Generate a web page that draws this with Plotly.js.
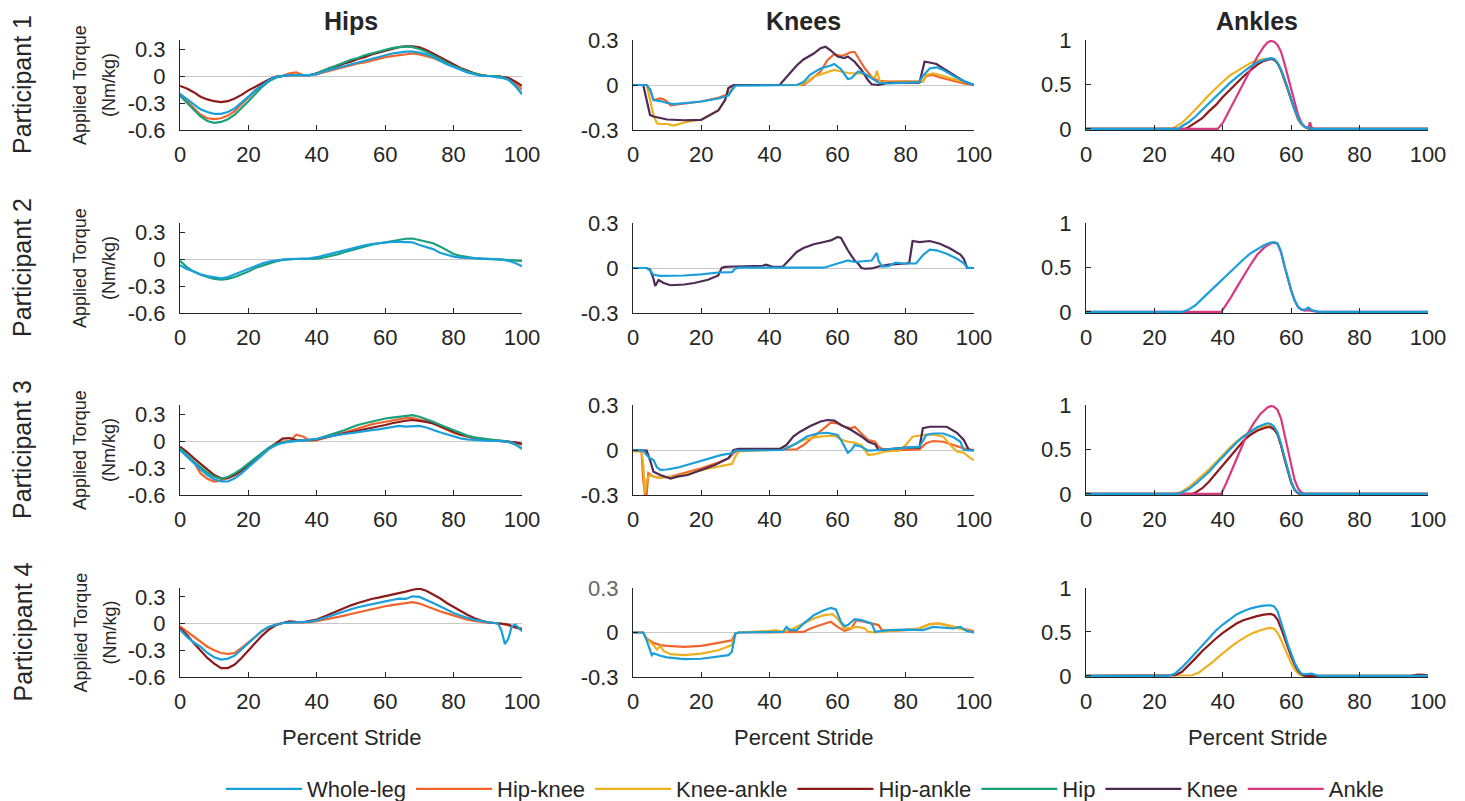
<!DOCTYPE html>
<html>
<head>
<meta charset="utf-8">
<script src="https://cdn.plot.ly/plotly-3.0.1.min.js"></script>
<style>html,body{margin:0;padding:0;background:#fff}#chart{width:1465px;height:801px}</style>
</head>
<body>
<div id="chart"></div>
<script>
// ---------- categories / labels ----------
const SERIES = ['Whole-leg','Hip-knee','Knee-ankle','Hip-ankle','Hip','Knee','Ankle'];
const COLORS = ['#1A9FDB','#F2642B','#EDB120','#8C1A1A','#17A07A','#4E2A55','#D8387E'];
const COLUMNS = ['Hips','Knees','Ankles'];
const PARTICIPANTS = ['Participant 1','Participant 2','Participant 3','Participant 4'];
const X_TICKS = [0,20,40,60,80,100];
const HIP_TICKS = [-0.6,-0.3,0,0.3];
const HIP_TICKTEXT = ['-0.6','-0.3','0','0.3'];
const KNEE_TICKS = [-0.3,0,0.3];
const KNEE_TICKTEXT = ['-0.3','0','0.3'];
const ANKLE_TICKS = [0,0.5,1];
const ANKLE_TICKTEXT = ['0','0.5','1'];

// ---------- hips (percent stride grid) ----------
const HIP_X = [0,2,4,6,8,10,12,14,16,18,20,22,24,26,28,30,32,34,36,38,40,42,44,46,48,50,52,54,56,58,60,62,64,66,68,70,72,74,76,78,80,82,84,86,88,90,92,94,96,98,100];

const P1_HIP_WL = [-0.20,-0.26,-0.32,-0.37,-0.40,-0.42,-0.42,-0.40,-0.36,-0.30,-0.23,-0.16,-0.10,-0.05,-0.01,0.00,0.01,0.01,0.01,0.01,0.02,0.05,0.07,0.09,0.11,0.13,0.15,0.17,0.19,0.21,0.23,0.25,0.26,0.27,0.27,0.26,0.24,0.21,0.17,0.13,0.10,0.07,0.04,0.02,0.00,0.00,-0.01,-0.02,-0.04,-0.10,-0.20];
const P1_HIP_HK = [-0.20,-0.28,-0.36,-0.43,-0.47,-0.48,-0.47,-0.44,-0.39,-0.32,-0.24,-0.16,-0.10,-0.05,-0.01,0.00,0.03,0.04,0.01,0.01,0.02,0.04,0.06,0.08,0.10,0.12,0.14,0.15,0.17,0.19,0.21,0.22,0.23,0.24,0.25,0.24,0.22,0.20,0.17,0.14,0.11,0.08,0.05,0.03,0.01,0.00,0.00,-0.01,-0.03,-0.08,-0.15];
const P1_HIP_HA = [-0.11,-0.14,-0.18,-0.23,-0.26,-0.28,-0.29,-0.28,-0.25,-0.21,-0.16,-0.12,-0.08,-0.04,-0.01,0.00,0.01,0.01,0.01,0.01,0.03,0.06,0.09,0.11,0.14,0.16,0.19,0.21,0.24,0.26,0.28,0.30,0.32,0.33,0.33,0.32,0.29,0.25,0.21,0.17,0.13,0.09,0.06,0.03,0.01,0.00,0.00,-0.01,-0.02,-0.06,-0.11];
const P1_HIP_H  = [-0.22,-0.30,-0.38,-0.45,-0.50,-0.52,-0.51,-0.48,-0.43,-0.36,-0.28,-0.20,-0.12,-0.06,-0.02,0.00,0.01,0.01,0.01,0.01,0.03,0.06,0.09,0.12,0.15,0.18,0.20,0.23,0.25,0.27,0.29,0.31,0.32,0.33,0.32,0.30,0.27,0.23,0.19,0.15,0.11,0.08,0.05,0.03,0.01,0.00,0.00,-0.01,-0.04,-0.11,-0.20];

const P2_HIP_WL = [-0.07,-0.11,-0.14,-0.17,-0.19,-0.205,-0.215,-0.20,-0.17,-0.14,-0.115,-0.08,-0.05,-0.03,-0.015,-0.007,0.0,0.004,0.006,0.007,0.02,0.04,0.055,0.08,0.10,0.12,0.137,0.152,0.167,0.177,0.185,0.19,0.19,0.19,0.185,0.155,0.135,0.11,0.07,0.045,0.026,0.015,0.01,0.006,0.004,0.002,0.0,-0.005,-0.02,-0.045,-0.08];
const P2_HIP_H  = [-0.02,-0.09,-0.14,-0.175,-0.20,-0.22,-0.23,-0.22,-0.20,-0.17,-0.14,-0.10,-0.075,-0.05,-0.026,-0.01,-0.003,0.0,0.0,0.0,0.005,0.017,0.03,0.05,0.075,0.097,0.12,0.14,0.16,0.172,0.185,0.197,0.21,0.225,0.228,0.21,0.195,0.175,0.14,0.10,0.055,0.035,0.02,0.01,0.004,0.0,0.0,-0.002,-0.005,-0.01,-0.02];

const P3_HIP_WL = [-0.10,-0.174,-0.25,-0.315,-0.378,-0.426,-0.45,-0.45,-0.415,-0.36,-0.29,-0.22,-0.155,-0.09,-0.048,-0.02,-0.007,0.0,0.004,0.01,0.022,0.04,0.055,0.067,0.078,0.088,0.096,0.105,0.12,0.13,0.14,0.152,0.167,0.16,0.167,0.167,0.15,0.12,0.097,0.075,0.05,0.03,0.018,0.01,0.005,0.002,0.0,0.0,-0.01,-0.03,-0.09];
const P3_HIP_HK = [-0.08,-0.167,-0.23,-0.36,-0.42,-0.45,-0.44,-0.415,-0.378,-0.33,-0.27,-0.20,-0.145,-0.08,-0.033,-0.007,0.0,0.07,0.05,0.0,0.01,0.03,0.048,0.07,0.093,0.117,0.14,0.162,0.185,0.20,0.215,0.228,0.24,0.255,0.255,0.24,0.22,0.196,0.16,0.12,0.09,0.067,0.045,0.03,0.018,0.01,0.004,0.0,-0.005,-0.02,-0.04];
const P3_HIP_HA = [-0.063,-0.12,-0.19,-0.255,-0.32,-0.378,-0.415,-0.41,-0.378,-0.33,-0.27,-0.20,-0.137,-0.08,-0.026,0.026,0.033,0.011,0.007,0.01,0.018,0.037,0.055,0.07,0.085,0.10,0.115,0.128,0.14,0.16,0.178,0.197,0.215,0.225,0.233,0.226,0.212,0.196,0.165,0.13,0.10,0.074,0.055,0.037,0.022,0.01,0.004,0.0,-0.005,-0.015,-0.03];
const P3_HIP_H  = [-0.08,-0.155,-0.23,-0.29,-0.35,-0.396,-0.42,-0.40,-0.36,-0.31,-0.25,-0.185,-0.126,-0.074,-0.037,-0.015,-0.004,0.0,0.005,0.01,0.022,0.045,0.067,0.093,0.12,0.15,0.178,0.197,0.215,0.232,0.25,0.26,0.27,0.285,0.288,0.27,0.245,0.215,0.18,0.148,0.115,0.085,0.06,0.04,0.028,0.018,0.01,0.004,-0.01,-0.04,-0.08];

const P4_HIP_WL_X = [0,2,4,6,8,10,12,14,16,18,20,22,24,26,28,30,32,34,36,38,40,42,44,46,48,50,52,54,56,58,60,62,64,66,68,70,72,74,76,78,80,82,84,86,88,90,92,93,94,95,96,97,98,100];
const P4_HIP_WL = [-0.067,-0.15,-0.21,-0.26,-0.33,-0.378,-0.405,-0.393,-0.36,-0.29,-0.217,-0.142,-0.079,-0.037,-0.011,0.007,0.012,0.015,0.018,0.022,0.037,0.063,0.09,0.115,0.139,0.162,0.184,0.202,0.22,0.235,0.25,0.265,0.28,0.277,0.307,0.30,0.27,0.232,0.195,0.157,0.12,0.092,0.064,0.045,0.026,0.015,0.007,0.0,-0.08,-0.23,-0.17,-0.03,-0.01,-0.085];
const P4_HIP_HK = [-0.03,-0.086,-0.15,-0.20,-0.26,-0.30,-0.33,-0.34,-0.33,-0.273,-0.21,-0.15,-0.086,-0.04,-0.011,0.007,0.007,0.007,0.01,0.015,0.026,0.04,0.056,0.073,0.09,0.108,0.127,0.146,0.165,0.18,0.195,0.207,0.22,0.23,0.24,0.225,0.195,0.167,0.139,0.115,0.09,0.067,0.045,0.03,0.019,0.012,0.007,0.0,-0.02,-0.045,-0.065];
const P4_HIP_HA = [-0.05,-0.124,-0.217,-0.30,-0.386,-0.45,-0.50,-0.50,-0.46,-0.386,-0.30,-0.217,-0.135,-0.067,-0.019,0.007,0.026,0.019,0.015,0.03,0.045,0.078,0.112,0.145,0.176,0.205,0.232,0.255,0.277,0.292,0.307,0.325,0.345,0.36,0.38,0.393,0.37,0.33,0.285,0.232,0.185,0.139,0.10,0.064,0.034,0.015,0.005,0.0,-0.01,-0.04,-0.06];

// ---------- knees ----------
const P1_KNE_WL_X = [0,4,5,6,8,10,12,15,20,25,28,29,30,48,50,52,55,58,59,61,62,63,64,66,68,70,72,75,80,84,85,87,89,91,94,97,100];
const P1_KNE_WL   = [0,0,-0.03,-0.10,-0.107,-0.12,-0.127,-0.12,-0.11,-0.09,-0.07,-0.035,-0.005,0,0.02,0.07,0.11,0.13,0.14,0.105,0.07,0.04,0.045,0.09,0.075,0.045,0.015,0.01,0.018,0.02,0.06,0.11,0.118,0.10,0.06,0.027,0];
const P1_KNE_HK_X = [0,4,5,6,8,9,10,11,13,15,20,25,28,29,30,50,52,55,57,59,61,62,64,65,66,68,70,72,75,80,85,86,88,90,93,97,100];
const P1_KNE_HK   = [0,0,-0.03,-0.10,-0.09,-0.095,-0.11,-0.135,-0.13,-0.125,-0.11,-0.085,-0.06,-0.03,0,0,0.033,0.09,0.165,0.205,0.195,0.20,0.22,0.22,0.18,0.11,0.055,0.027,0.022,0.025,0.022,0.06,0.067,0.05,0.033,0.01,0];
const P1_KNE_KA_X = [0,4,5,6,7,8,10,12,15,20,25,27,28,30,49,51,53,56,59,61,63,65,67,69,71,71.5,72.5,75,80,85,86,88,90,93,97,100];
const P1_KNE_KA   = [0,0,-0.10,-0.20,-0.255,-0.26,-0.26,-0.27,-0.25,-0.23,-0.17,-0.10,-0.02,0,0,0.022,0.055,0.08,0.10,0.09,0.08,0.078,0.078,0.06,0.05,0.095,0.015,0.02,0.022,0.025,0.067,0.078,0.067,0.045,0.02,0];
const P1_KNE_K_X  = [0,3,5,6,8,10,15,20,25,27,28,29.5,43,45,47,48,50,53,55,56.5,58,60,62,63,65,67,69,70,72,75,84,85.5,87,89,91,93,95,97,100];
const P1_KNE_K    = [0,0,-0.20,-0.21,-0.22,-0.23,-0.235,-0.233,-0.17,-0.10,-0.02,0,0,0.055,0.11,0.13,0.17,0.21,0.245,0.255,0.23,0.19,0.18,0.19,0.155,0.10,0.03,0.005,0.0,0.015,0.015,0.155,0.15,0.14,0.11,0.08,0.05,0.025,0];

const P2_KNE_WL_X = [0,4,5,6,8,15,20,25,29,30,31,56,60,63,65,70,71,71.5,72,73,75,77,79,83,85,87,89,92,95,97,98,100];
const P2_KNE_WL   = [0,0,-0.015,-0.045,-0.053,-0.05,-0.042,-0.03,-0.027,-0.005,0.002,0.002,0.03,0.05,0.04,0.05,0.085,0.10,0.05,0.01,0.013,0.036,0.03,0.03,0.085,0.122,0.118,0.095,0.062,0.033,0.002,0];
const P2_KNE_K_X  = [0,4,5,6,6.5,7.5,9,11,15,18,22,25,26,27,30,38,39,41,44,46,48,50,53,56,58,60,61,63,65,66,67,68,70,72,75,80,81,82,84,87,90,93,96,97,98,100];
const P2_KNE_K    = [0,0,-0.01,-0.07,-0.12,-0.08,-0.10,-0.115,-0.11,-0.10,-0.078,-0.05,0,0.007,0.01,0.015,0.022,0.008,0.01,0.06,0.107,0.133,0.158,0.173,0.184,0.207,0.20,0.118,0.05,0.03,0,-0.005,-0.003,0.01,0.022,0.03,0.033,0.18,0.173,0.18,0.162,0.13,0.09,0.062,0,0];

const P3_KNE_WL_X = [0,3,4,5,6,7,8,10,13,18,22,26,29,30,44,48,51,54,57,60,61,62,63,64,65,67,69,72,77,82,84,86,88,91,94,96,97,100];
const P3_KNE_WL   = [0,-0.004,-0.033,-0.055,-0.067,-0.115,-0.133,-0.13,-0.118,-0.085,-0.055,-0.033,-0.022,-0.004,0,0.045,0.09,0.11,0.115,0.10,0.067,0.022,-0.018,0,0.033,0.022,-0.004,0,0.011,0.022,0.022,0.10,0.11,0.11,0.085,0.055,0,-0.004];
const P3_KNE_HK_X = [0,2.5,3,3.5,4,4.5,6,8,11,15,20,25,28,29,30,31,48,50,53,56,58,60,62,64,65,67,69,71,72,74,84,86,88,91,94,97,100];
const P3_KNE_HK   = [0,-0.01,-0.20,-0.30,-0.30,-0.155,-0.178,-0.185,-0.178,-0.155,-0.122,-0.084,-0.055,-0.033,-0.011,-0.004,0.005,0.033,0.09,0.145,0.182,0.178,0.155,0.145,0.155,0.11,0.067,0.055,0.022,-0.004,0.004,0.045,0.06,0.055,0.033,0.011,0];
const P3_KNE_KA_X = [0,2.5,3,3.5,4,5,7,9,12,15,18,21,24,27,29,30,31,44,46,48,50,53,56,59,61,63,65,67,69,71,74,78,80,82,85,88,91,93,95,97,99,100];
const P3_KNE_KA   = [-0.01,-0.01,-0.09,-0.29,-0.20,-0.167,-0.185,-0.18,-0.18,-0.162,-0.145,-0.13,-0.115,-0.10,-0.093,-0.045,-0.01,0.005,0.022,0.045,0.067,0.082,0.093,0.096,0.07,0.055,0.049,0.033,-0.033,-0.027,-0.01,-0.004,0.033,0.089,0.10,0.104,0.089,0.033,-0.01,-0.018,-0.055,-0.067];
const P3_KNE_K_X  = [0,4,5,6,8,11,13,16,20,24,28,29.5,31,43,45,47,49,52,55,57,59,61,64,67,69,71,72,75,80,84,85,87,90,92,95,97,98.5,100];
const P3_KNE_K    = [0,-0.004,-0.067,-0.145,-0.167,-0.19,-0.178,-0.167,-0.133,-0.10,-0.055,0,0.007,0.007,0.033,0.09,0.122,0.16,0.19,0.20,0.196,0.167,0.133,0.09,0.055,0.038,0,0.007,0.016,0.016,0.145,0.155,0.155,0.155,0.115,0.067,0,0];

const P4_KNE_WL_X = [0,3,4,5,5.5,6,8,10,15,20,25,28,29,30,31,44,45,46,48,50,53,56,58,59.5,61,62,63,65,67,69,70,71,75,80,85,88,91,94,96,98,100];
const P4_KNE_WL   = [0,0,-0.052,-0.13,-0.153,-0.14,-0.157,-0.168,-0.18,-0.177,-0.164,-0.153,-0.13,-0.007,0,0.004,0.038,0.016,0.016,0.06,0.117,0.15,0.166,0.155,0.072,0.043,0.05,0.09,0.083,0.067,0.06,0.004,0.016,0.02,0.016,0.038,0.031,0.027,0.038,0.009,0];
const P4_KNE_HK_X = [0,3,4,6,8,10,15,20,25,29,30,31,50,52,55,58,60,62,64,65.5,68,70,72,73,76,80,84,87,90,94,97,100];
const P4_KNE_HK   = [0,0,-0.04,-0.07,-0.085,-0.09,-0.097,-0.09,-0.07,-0.052,-0.007,0,0.004,0.027,0.05,0.072,0.038,0.011,0.027,0.083,0.072,0.06,0.05,0.016,0.011,0.016,0.027,0.056,0.06,0.038,0.022,0.009];
const P4_KNE_KA_X = [0,3,4,6,7,8,9,11,15,20,25,28,29,30,31,40,42,44,47,50,53,56,58.5,60,62,64,66,68,69,71,75,80,84,87,90,93,96,98,100];
const P4_KNE_KA   = [0,0,-0.04,-0.085,-0.115,-0.092,-0.124,-0.146,-0.153,-0.142,-0.12,-0.097,-0.085,-0.011,0,0.011,0.016,0.004,0.027,0.06,0.094,0.117,0.124,0.094,0.027,0.031,0.038,0.027,0.004,0,0.009,0.016,0.027,0.056,0.06,0.045,0.027,0.016,0];

// ---------- ankles ----------
const P1_ANK_A_X  = [0,38.5,40,42,44,46,48,50,52,53,54,55,56,57,58,59,60,61,62,63,64,65,65.5,66,67,100];
const P1_ANK_A    = [0,0,0.067,0.216,0.366,0.515,0.664,0.806,0.925,0.97,0.99,0.98,0.944,0.87,0.74,0.59,0.44,0.29,0.16,0.067,0.022,0.01,0.075,0.01,0,0];
const P1_ANK_KA_X = [0,25,26,28,30,32,34,36,38,40,42,44,46,48,50,52,54,55,56,57,58,59,60,61,62,63,64,65,100];
const P1_ANK_KA   = [0,0,0.02,0.067,0.14,0.216,0.30,0.384,0.46,0.53,0.60,0.65,0.70,0.74,0.77,0.785,0.79,0.78,0.74,0.66,0.55,0.44,0.31,0.20,0.10,0.05,0.02,0,0];
const P1_ANK_WL_X = [0,27,28,30,32,34,36,38,40,42,44,46,48,50,52,54,55,56,57,58,59,60,61,62,63,64,65,66,100];
const P1_ANK_WL   = [0,0,0.03,0.075,0.14,0.216,0.29,0.37,0.45,0.515,0.58,0.645,0.70,0.746,0.776,0.795,0.79,0.746,0.67,0.57,0.45,0.33,0.216,0.12,0.06,0.022,0.008,0,0];
const P1_ANK_HA_X = [0,29,30,32,34,36,38,40,42,44,46,48,50,52,54,55,56,57,58,59,60,61,62,63,64,65,66,100];
const P1_ANK_HA   = [0,0,0.02,0.067,0.12,0.20,0.27,0.36,0.44,0.515,0.59,0.655,0.72,0.765,0.787,0.78,0.74,0.665,0.565,0.45,0.33,0.216,0.12,0.06,0.022,0.008,0,0];

const P2_ANK_WL_X = [0,28,30,32,34,36,38,40,42,44,46,48,50,52,54,55,56,57,58,59,60,61,62,63,64,65,66,68,100];
const P2_ANK_WL   = [0,0,0.026,0.075,0.15,0.225,0.30,0.375,0.45,0.525,0.59,0.655,0.70,0.75,0.78,0.786,0.77,0.68,0.525,0.375,0.243,0.13,0.056,0.026,0.026,0.049,0.02,0,0];
const P2_ANK_A_X  = [0,39.5,40,42,44,46,48,50,52,54,55,56,57,58,59,60,61,62,63,64,65,66,68,100];
const P2_ANK_A    = [0,0,0.026,0.14,0.27,0.40,0.525,0.64,0.72,0.77,0.78,0.765,0.675,0.52,0.37,0.24,0.128,0.055,0.025,0.015,0.02,0.01,0,0];

const P3_ANK_A_X  = [0,39.5,41,43,45,47,49,51,53,54,55,56,57,58,59,60,61,62,63,64,100];
const P3_ANK_A    = [0,0,0.12,0.307,0.494,0.663,0.794,0.90,0.97,0.989,0.98,0.944,0.85,0.68,0.494,0.307,0.157,0.064,0.015,0,0];
const P3_ANK_WL_X = [0,27,28,30,32,34,36,38,40,42,44,46,48,50,52,53,54,55,56,57,58,59,60,61,62,63,100];
const P3_ANK_WL   = [0,0,0.015,0.052,0.112,0.176,0.25,0.337,0.42,0.50,0.577,0.644,0.70,0.75,0.78,0.794,0.786,0.757,0.69,0.57,0.42,0.27,0.139,0.052,0.015,0,0];
const P3_ANK_KA_X = [0,26,28,30,32,34,36,38,40,42,44,46,48,50,52,53,54,55,56,57,58,59,60,61,62,63,100];
const P3_ANK_KA   = [0,0,0.026,0.075,0.139,0.206,0.277,0.356,0.438,0.52,0.588,0.65,0.70,0.738,0.764,0.768,0.764,0.734,0.674,0.55,0.40,0.25,0.127,0.045,0.007,0,0];
const P3_ANK_HA_X = [0,31,32,34,36,38,40,42,44,46,48,50,52,53,54,55,56,57,58,59,60,61,62,63,100];
const P3_ANK_HA   = [0,0,0.015,0.064,0.139,0.232,0.326,0.42,0.513,0.596,0.663,0.71,0.738,0.75,0.75,0.725,0.67,0.55,0.40,0.25,0.127,0.045,0.007,0,0];

const P4_ANK_WL_X = [0,24,26,28,30,32,34,36,38,40,42,44,46,48,50,52,54,55,56,57,58,59,60,61,62,63,64,66,68,100];
const P4_ANK_WL   = [0,0,0.026,0.094,0.177,0.264,0.35,0.434,0.517,0.585,0.64,0.70,0.736,0.766,0.785,0.80,0.804,0.79,0.736,0.62,0.49,0.36,0.245,0.15,0.075,0.026,0.019,0.026,0,0];
const P4_ANK_HA_X = [0,25,26,28,30,32,34,36,38,40,42,44,46,48,50,52,54,55,56,57,58,59,60,61,62,63,64,95,97,99,100];
const P4_ANK_HA   = [0,0,0.008,0.045,0.12,0.20,0.283,0.358,0.426,0.49,0.547,0.596,0.634,0.66,0.68,0.698,0.706,0.69,0.64,0.547,0.434,0.32,0.22,0.13,0.057,0.019,0,0,0.015,0.012,0.005];
const P4_ANK_KA_X = [0,30,31,33,35,37,39,41,43,45,47,49,51,53,54,55,56,57,58,59,60,61,62,63,64,100];
const P4_ANK_KA   = [0,0,0.008,0.038,0.094,0.158,0.226,0.29,0.35,0.404,0.453,0.49,0.52,0.54,0.547,0.536,0.49,0.415,0.32,0.226,0.143,0.075,0.03,0.008,0,0];

// ---------- panel composition: [row, col, [[seriesIndex, x, y], ...]] (drawn in listed order) ----------
const PANELS = [
  [0,0,[[1,HIP_X,P1_HIP_HK],[3,HIP_X,P1_HIP_HA],[4,HIP_X,P1_HIP_H],[0,HIP_X,P1_HIP_WL]]],
  [0,1,[[1,P1_KNE_HK_X,P1_KNE_HK],[2,P1_KNE_KA_X,P1_KNE_KA],[5,P1_KNE_K_X,P1_KNE_K],[0,P1_KNE_WL_X,P1_KNE_WL]]],
  [0,2,[[2,P1_ANK_KA_X,P1_ANK_KA],[3,P1_ANK_HA_X,P1_ANK_HA],[6,P1_ANK_A_X,P1_ANK_A],[0,P1_ANK_WL_X,P1_ANK_WL]]],
  [1,0,[[4,HIP_X,P2_HIP_H],[0,HIP_X,P2_HIP_WL]]],
  [1,1,[[5,P2_KNE_K_X,P2_KNE_K],[0,P2_KNE_WL_X,P2_KNE_WL]]],
  [1,2,[[6,P2_ANK_A_X,P2_ANK_A],[0,P2_ANK_WL_X,P2_ANK_WL]]],
  [2,0,[[1,HIP_X,P3_HIP_HK],[3,HIP_X,P3_HIP_HA],[4,HIP_X,P3_HIP_H],[0,HIP_X,P3_HIP_WL]]],
  [2,1,[[1,P3_KNE_HK_X,P3_KNE_HK],[2,P3_KNE_KA_X,P3_KNE_KA],[5,P3_KNE_K_X,P3_KNE_K],[0,P3_KNE_WL_X,P3_KNE_WL]]],
  [2,2,[[2,P3_ANK_KA_X,P3_ANK_KA],[3,P3_ANK_HA_X,P3_ANK_HA],[6,P3_ANK_A_X,P3_ANK_A],[0,P3_ANK_WL_X,P3_ANK_WL]]],
  [3,0,[[1,HIP_X,P4_HIP_HK],[3,HIP_X,P4_HIP_HA],[0,P4_HIP_WL_X,P4_HIP_WL]]],
  [3,1,[[1,P4_KNE_HK_X,P4_KNE_HK],[2,P4_KNE_KA_X,P4_KNE_KA],[0,P4_KNE_WL_X,P4_KNE_WL]]],
  [3,2,[[2,P4_ANK_KA_X,P4_ANK_KA],[3,P4_ANK_HA_X,P4_ANK_HA],[0,P4_ANK_WL_X,P4_ANK_WL]]]
];

// ---------- layout geometry ----------
const W = 1465, H = 801;
const COL_PX = [[180,522],[633,974],[1086,1428]];
const ROW_PX = [[40,130],[223,313],[405,495],[588,677]];
const colDom = c => [COL_PX[c][0]/W, COL_PX[c][1]/W];
const rowDom = r => [1-ROW_PX[r][1]/H, 1-ROW_PX[r][0]/H];
const INK = '#262626';
const FONT = 'Liberation Sans, Arial, Helvetica, sans-serif';

const traces = [];
const shown = new Set();
const layout = {
  width: W, height: H, autosize: false,
  margin: {l:0, r:0, t:0, b:0, pad:0, autoexpand:false},
  paper_bgcolor: '#fff', plot_bgcolor: '#fff',
  font: {family: FONT, color: INK},
  showlegend: true,
  legend: {orientation:'h', x:0.5495, xanchor:'center', y:1-789/H, yanchor:'middle',
           font:{size:22, color:INK, family:FONT}, itemwidth:76, bgcolor:'rgba(0,0,0,0)', traceorder:'normal'},
  annotations: []
};

PANELS.forEach(([r,c,list]) => {
  const i = r*3 + c + 1;
  const xa = 'x' + (i===1?'':i), ya = 'y' + (i===1?'':i);
  list.forEach(([s,x,y]) => {
    const first = !shown.has(s);
    shown.add(s);
    traces.push({
      type:'scatter', mode:'lines', x:x, y:y, name:SERIES[s],
      legendgroup:SERIES[s], showlegend:first, legendrank:s+1,
      line:{color:COLORS[s], width:2.2}, xaxis:xa, yaxis:ya, hoverinfo:'skip'
    });
  });
  const ax = {
    domain: colDom(c), anchor: ya, range:[0,100], tickvals:X_TICKS,
    showline:true, linecolor:INK, linewidth:1, ticks:'inside', ticklen:5, tickcolor:INK,
    tickfont:{size:22, color:INK}, ticklabelstandoff:5, zeroline:false, showgrid:false, fixedrange:true
  };
  let yr, tv, tt;
  if (c===0) { yr=[-0.6,0.4]; tv=HIP_TICKS; tt=HIP_TICKTEXT; }
  else if (c===1) { yr=[-0.3,0.3]; tv=KNEE_TICKS; tt=KNEE_TICKTEXT.slice(); if (r===3) tt[2]='<span style="color:#666">0.3</span>'; }
  else { yr=[-0.012,1]; tv=ANKLE_TICKS; tt=ANKLE_TICKTEXT; }
  const ay = {
    domain: rowDom(r), anchor: xa, range: yr, tickvals: tv, ticktext: tt,
    showline:true, linecolor:INK, linewidth:1, ticks:'inside', ticklen:5, tickcolor:INK,
    tickfont:{size:22, color:INK}, ticklabelstandoff:9, showgrid:false, fixedrange:true,
    zeroline: c<2, zerolinecolor:'#c8c8c8', zerolinewidth:1
  };
  layout['xaxis' + (i===1?'':i)] = ax;
  layout['yaxis' + (i===1?'':i)] = ay;
});

// column titles and x-axis titles
COLUMNS.forEach((t,c) => {
  const d = colDom(c);
  layout.annotations.push({text:'<b>'+t+'</b>', xref:'paper', yref:'paper', x:(d[0]+d[1])/2, y:1-21/H,
    xanchor:'center', yanchor:'middle', showarrow:false, font:{size:25, color:INK}});
  layout.annotations.push({text:'Percent Stride', xref:'paper', yref:'paper', x:(d[0]+d[1])/2, y:1-737/H,
    xanchor:'center', yanchor:'middle', showarrow:false, font:{size:22, color:INK}});
});
// row labels and y-axis titles
PARTICIPANTS.forEach((t,r) => {
  const d = rowDom(r); const yc = (d[0]+d[1])/2;
  layout.annotations.push({text:t, xref:'paper', yref:'paper', x:22/W, y:yc, textangle:-90,
    xanchor:'center', yanchor:'middle', showarrow:false, font:{size:25, color:INK}});
  layout.annotations.push({text:'Applied Torque', xref:'paper', yref:'paper', x:80/W, y:yc, textangle:-90,
    xanchor:'center', yanchor:'middle', showarrow:false, font:{size:18, color:INK}});
  layout.annotations.push({text:'(Nm/kg)', xref:'paper', yref:'paper', x:109/W, y:yc, textangle:-90,
    xanchor:'center', yanchor:'middle', showarrow:false, font:{size:18, color:INK}});
});

Plotly.newPlot('chart', traces, layout, {displayModeBar:false, staticPlot:true});
</script>
</body>
</html>
